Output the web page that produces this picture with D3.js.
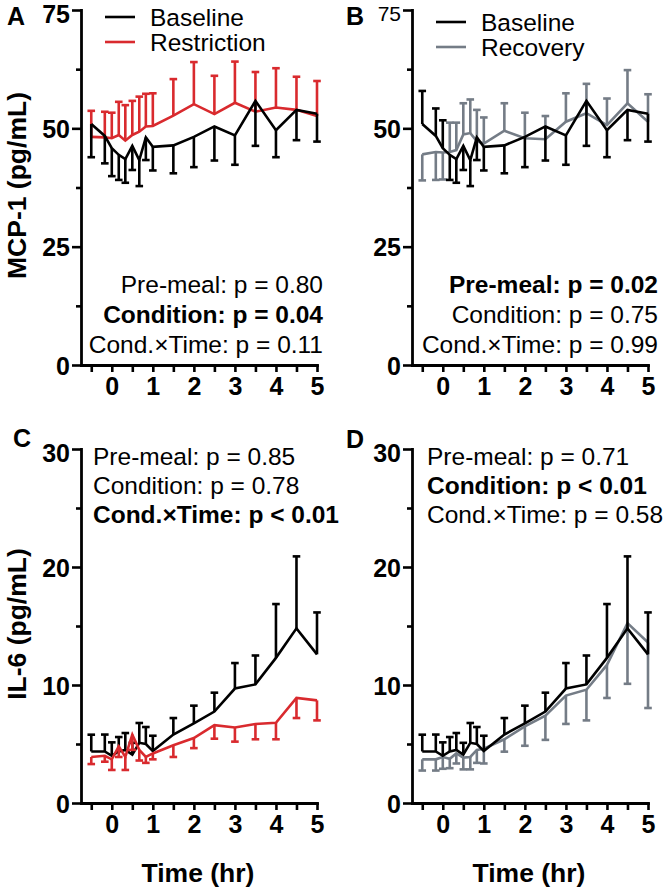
<!DOCTYPE html>
<html><head><meta charset="utf-8">
<script src="https://cdn.jsdelivr.net/npm/d3@7"></script>
<style>
body{margin:0;background:#fff}
svg{display:block}
text{font-family:"Liberation Sans", Arial, Helvetica, sans-serif;fill:#000}
</style>
</head><body>
<svg id="chart" width="667" height="891"></svg>
<script>
// ---------- data ----------
const times = [-0.5, -0.17, 0, 0.17, 0.33, 0.5, 0.67, 0.83, 1, 1.5, 2, 2.5, 3, 3.5, 4, 4.5, 5];
const xTickValues = [-0.5, 0, 0.5, 1, 1.5, 2, 2.5, 3, 3.5, 4, 4.5, 5];
const xTickLabels = ["", "0", "", "1", "", "2", "", "3", "", "4", "", "5"];

// MCP-1 (pg/mL): mean and SEM
const mcpBaseline      = [50.9, 48.4, 45.8, 44.4, 43.5, 46.3, 43.3, 48.1, 46.1, 46.4, 48.2, 50.4, 48.5, 55.8, 49.6, 53.9, 53.1];
const mcpBaselineSem   = [7.0, 5.8, 5.9, 5.3, 5.0, 5.1, 5.5, 4.8, 5.0, 5.9, 6.4, 7.2, 6.2, 9.5, 5.7, 6.4, 5.9];
const mcpRestriction   = [48.2, 48.1, 47.9, 48.6, 47.4, 48.6, 49.3, 50.4, 50.5, 52.7, 55.1, 53.0, 55.4, 53.5, 54.4, 53.9, 52.6];
const mcpRestrictionSem= [5.5, 5.4, 5.4, 7.0, 7.5, 7.2, 7.4, 6.9, 6.9, 7.7, 8.9, 8.1, 8.7, 8.4, 8.3, 7.0, 7.4];
const mcpRecovery      = [44.5, 45.0, 44.9, 45.0, 45.4, 48.7, 49.0, 47.3, 46.8, 49.5, 47.9, 47.7, 51.4, 53.2, 50.7, 55.3, 51.4];
const mcpRecoverySem   = [5.5, 5.9, 5.7, 6.2, 5.8, 6.6, 7.1, 6.6, 5.5, 5.8, 5.4, 4.9, 6.0, 6.2, 5.6, 7.0, 5.8];

// IL-6 (pg/mL): mean and SEM
const ilBaseline       = [4.37, 4.37, 4.0, 4.37, 4.5, 4.1, 5.1, 5.0, 4.4, 5.8, 6.75, 7.75, 9.7, 10.05, 12.3, 14.8, 12.6];
const ilBaselineSem    = [1.42, 1.43, 1.14, 1.22, 1.43, 1.0, 1.68, 1.44, 1.3, 1.4, 1.5, 1.6, 2.16, 2.45, 4.56, 6.1, 3.55];
const ilRestriction    = [3.9, 4.0, 3.7, 4.8, 3.9, 5.8, 4.5, 3.9, 4.2, 4.9, 5.5, 6.6, 6.4, 6.7, 6.8, 8.9, 8.7];
const ilRestrictionSem = [0.6, 0.5, 0.9, 0.9, 1.1, 1.3, 0.9, 0.5, 0.5, 1.0, 0.85, 1.15, 1.2, 1.3, 1.4, 1.7, 1.7];
const ilRecovery       = [3.7, 3.7, 3.9, 3.75, 4.2, 3.85, 3.9, 4.5, 4.6, 5.4, 6.5, 7.4, 9.1, 9.6, 11.7, 15.25, 13.6];
const ilRecoverySem    = [0.95, 0.95, 1.0, 0.8, 0.85, 1.0, 1.05, 1.1, 1.25, 1.05, 1.65, 2.05, 2.4, 2.6, 2.8, 5.15, 5.55];

// error bar side (+1 above the mean, -1 below)
const sideUp   = times.map(() => 1);
const sideDown = times.map(() => -1);
const sideBaselineB = [1, 1, 1, -1, -1, -1, -1, -1, -1, -1, -1, -1, -1, -1, -1, -1, -1];
const sideRecoveryB = [-1, -1, -1, 1, 1, 1, 1, 1, 1, 1, 1, 1, 1, 1, 1, 1, 1];

const mcpTicks = [0, 25, 50, 75];
const mcpMinor = [12.5, 37.5, 62.5];
const ilTicks = [0, 10, 20, 30];
const ilMinor = [5, 15, 25];

const statsA = [["Pre-meal: p = 0.80", false], ["Condition: p = 0.04", true], ["Cond.\u00D7Time: p = 0.11", false]];
const statsB = [["Pre-meal: p = 0.02", true], ["Condition: p = 0.75", false], ["Cond.\u00D7Time: p = 0.99", false]];
const statsC = [["Pre-meal: p = 0.85", false], ["Condition: p = 0.78", false], ["Cond.\u00D7Time: p < 0.01", true]];
const statsD = [["Pre-meal: p = 0.71", false], ["Condition: p < 0.01", true], ["Cond.\u00D7Time: p = 0.58", false]];

const BLACK = "#000000", RED = "#d92a2e", GRAY = "#747c86";

// ---------- drawing ----------
const svg = d3.select("#chart");

function panel(cfg) {
  const g = svg.append("g");
  const x = d3.scaleLinear().domain([-0.75, 5]).range([cfg.left, cfg.left + 236]);
  const y = d3.scaleLinear().domain([0, cfg.ymax]).range([cfg.bottom, cfg.top]);

  // series
  cfg.series.forEach(s => {
    const sg = g.append("g");
    const line = d3.line().x((d, i) => x(times[i])).y(d => y(d));
    sg.append("path").datum(s.values).attr("d", line)
      .attr("fill", "none").attr("stroke", s.color).attr("stroke-width", 2.6)
      .attr("stroke-linejoin", "miter");
    s.values.forEach((v, i) => {
      const end = v + s.side[i] * s.sem[i];
      const xp = x(times[i]);
      sg.append("line").attr("x1", xp).attr("x2", xp).attr("y1", y(v)).attr("y2", y(end))
        .attr("stroke", s.color).attr("stroke-width", 2.6);
      sg.append("line").attr("x1", xp - 3.8).attr("x2", xp + 3.8).attr("y1", y(end)).attr("y2", y(end))
        .attr("stroke", s.color).attr("stroke-width", 2.6);
    });
  });

  // y axis
  const ya = g.append("g").attr("transform", `translate(${cfg.left},0)`)
    .call(d3.axisLeft(y).tickValues(cfg.ticks).tickSize(9).tickSizeOuter(0).tickPadding(2));
  ya.selectAll("text").attr("font-size", 25).attr("font-weight", "bold").attr("dy", "0.36em");
  ya.selectAll(".tick:last-of-type text").attr("dy", "0.5em");
  if (cfg.topTickLight) ya.selectAll(".tick:last-of-type text").attr("font-weight", "normal").attr("font-size", 21);
  const ym = g.append("g").attr("transform", `translate(${cfg.left},0)`)
    .call(d3.axisLeft(y).tickValues(cfg.minor).tickSize(5).tickSizeOuter(0).tickFormat(""));
  ym.select(".domain").remove();

  // x axis
  const xa = g.append("g").attr("transform", `translate(0,${cfg.bottom})`)
    .call(d3.axisBottom(x).tickValues(xTickValues).tickSize(7).tickSizeOuter(0).tickPadding(5)
      .tickFormat((d, i) => xTickLabels[i]));
  xa.selectAll("text").attr("font-size", 25).attr("font-weight", "bold");

  [ya, ym, xa].forEach(a => {
    a.selectAll("line").attr("stroke", "#000").attr("stroke-width", 2.6);
    a.selectAll(".domain").attr("stroke", "#000").attr("stroke-width", 2.8).attr("stroke-linecap", "square");
    a.selectAll("text").attr("fill", "#000").style("font-family", '"Liberation Sans", Arial, sans-serif');
  });

  // panel letter
  g.append("text").attr("x", cfg.letterX).attr("y", cfg.letterY).text(cfg.letter)
    .attr("font-size", 25).attr("font-weight", "bold");

  // y title
  if (cfg.ytitle) {
    g.append("text").attr("transform", `translate(16,${(cfg.top + cfg.bottom) / 2 - 2}) rotate(-90)`)
      .attr("text-anchor", "middle").attr("dy", "0.36em")
      .attr("font-size", 26.5).attr("font-weight", "bold").text(cfg.ytitle);
  }
  // x title
  if (cfg.xtitle) {
    g.append("text").attr("x", x(2.1)).attr("y", cfg.bottom + 79).attr("text-anchor", "middle")
      .attr("font-size", 26.5).attr("font-weight", "bold").text(cfg.xtitle);
  }

  // legend
  if (cfg.legend) {
    cfg.legend.forEach((l, i) => {
      const ly = cfg.legendY + i * 25;
      g.append("line").attr("x1", cfg.legendX).attr("x2", cfg.legendX + 30).attr("y1", ly).attr("y2", ly)
        .attr("stroke", l.color).attr("stroke-width", 2.6);
      g.append("text").attr("x", cfg.legendX + 45).attr("y", ly + 9).attr("font-size", 24.5).text(l.name);
    });
  }

  // stats
  cfg.stats.forEach((s, i) => {
    g.append("text").attr("x", cfg.statsX).attr("y", cfg.statsY + i * cfg.statsStep)
      .attr("text-anchor", cfg.statsAnchor).attr("font-size", 24.5)
      .attr("font-weight", s[1] ? "bold" : "normal").text(s[0]);
  });
}

panel({
  left: 81, top: 10, bottom: 365, ymax: 75, ticks: mcpTicks, minor: mcpMinor,
  letter: "A", letterX: 7, letterY: 25, ytitle: "MCP-1 (pg/mL)",
  series: [
    {values: mcpRestriction, sem: mcpRestrictionSem, side: sideUp, color: RED},
    {values: mcpBaseline, sem: mcpBaselineSem, side: sideDown, color: BLACK}
  ],
  legend: [{name: "Baseline", color: BLACK}, {name: "Restriction", color: RED}],
  legendX: 105, legendY: 17,
  stats: statsA, statsX: 323, statsY: 293, statsStep: 30, statsAnchor: "end"
});

panel({
  left: 412, top: 10, bottom: 365, ymax: 75, ticks: mcpTicks, minor: mcpMinor, topTickLight: true,
  letter: "B", letterX: 346, letterY: 25,
  series: [
    {values: mcpRecovery, sem: mcpRecoverySem, side: sideRecoveryB, color: GRAY},
    {values: mcpBaseline, sem: mcpBaselineSem, side: sideBaselineB, color: BLACK}
  ],
  legend: [{name: "Baseline", color: BLACK}, {name: "Recovery", color: GRAY}],
  legendX: 436, legendY: 22,
  stats: statsB, statsX: 658, statsY: 293, statsStep: 30, statsAnchor: "end"
});

panel({
  left: 81, top: 449, bottom: 803, ymax: 30, ticks: ilTicks, minor: ilMinor,
  letter: "C", letterX: 13, letterY: 447, ytitle: "IL-6 (pg/mL)", xtitle: "Time (hr)",
  series: [
    {values: ilBaseline, sem: ilBaselineSem, side: sideUp, color: BLACK},
    {values: ilRestriction, sem: ilRestrictionSem, side: sideDown, color: RED}
  ],
  stats: statsC, statsX: 93, statsY: 465, statsStep: 29, statsAnchor: "start"
});

panel({
  left: 412, top: 449, bottom: 803, ymax: 30, ticks: ilTicks, minor: ilMinor,
  letter: "D", letterX: 346, letterY: 448, xtitle: "Time (hr)",
  series: [
    {values: ilRecovery, sem: ilRecoverySem, side: sideDown, color: GRAY},
    {values: ilBaseline, sem: ilBaselineSem, side: sideUp, color: BLACK}
  ],
  stats: statsD, statsX: 427, statsY: 465, statsStep: 29, statsAnchor: "start"
});
</script>
</body></html>
